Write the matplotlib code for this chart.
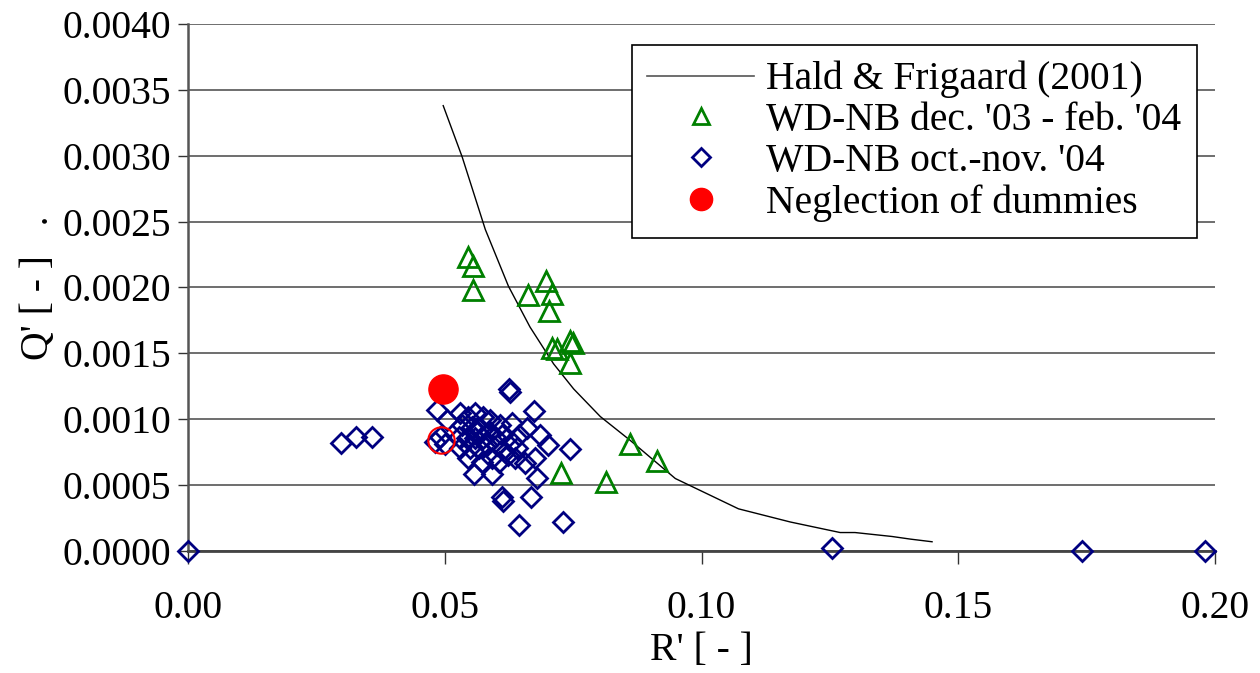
import matplotlib
matplotlib.use('Agg')
import matplotlib.pyplot as plt
from matplotlib.lines import Line2D

plt.rcParams['font.family'] = ['Liberation Serif', 'DejaVu Serif']

# Hald & Frigaard (2001)
hf_r = [0.0497, 0.0534, 0.0579, 0.0624, 0.0666, 0.0712, 0.0751, 0.0803, 0.0861,
        0.0949, 0.1072, 0.1173, 0.1270, 0.1299, 0.1371, 0.1407, 0.1449]
hf_q = [0.00338, 0.00299, 0.00244, 0.00201, 0.00170, 0.00142, 0.00123, 0.00102, 0.00084,
        0.00055, 0.00032, 0.00022, 0.00014, 0.00014, 0.00011, 0.00009, 0.00007]

# WD-NB dec. '03 - feb. '04
dec_r = [0.0545, 0.0555, 0.0555, 0.0662, 0.0697, 0.0709, 0.0703, 0.0709, 0.0719,
         0.0744, 0.0749, 0.0743, 0.0727, 0.0814, 0.0861, 0.0914]
dec_q = [0.00223, 0.00216, 0.00198, 0.00194, 0.00205, 0.00195, 0.00182, 0.00154, 0.00153,
         0.00159, 0.00158, 0.00143, 0.00059, 0.00052, 0.00081, 0.00068]

# WD-NB oct.-nov. '04
oct_r = [0.0, 0.0298, 0.0327, 0.0358, 0.1254, 0.1741, 0.1980,
         0.0485, 0.0504, 0.0481, 0.0491, 0.0501, 0.0530, 0.0546, 0.0559, 0.0575, 0.0588,
         0.0608, 0.0533, 0.0553, 0.0569, 0.0562, 0.0588, 0.0527, 0.0543, 0.0559, 0.0575,
         0.0598, 0.0530, 0.0549, 0.0566, 0.0582, 0.0601, 0.0546, 0.0572, 0.0592, 0.0605,
         0.0556, 0.0592, 0.0611, 0.0631, 0.0644, 0.0618, 0.0640, 0.0623,
         0.0626, 0.0627, 0.0674, 0.0631, 0.0660, 0.0686, 0.0702, 0.0744, 0.0676, 0.0657,
         0.0637, 0.0679, 0.0611, 0.0614, 0.0668, 0.0645, 0.0731]
oct_q = [0.0, 0.000817, 0.000868, 0.000868, 0.00002, 0.0, 0.0,
         0.001070, 0.000994, 0.000830, 0.000868, 0.000810, 0.001045, 0.001019, 0.001045, 0.001019, 0.000994,
         0.000956, 0.000956, 0.000943, 0.000931, 0.000906, 0.000906, 0.000868, 0.000855, 0.000855, 0.000855,
         0.000868, 0.000780, 0.000780, 0.000780, 0.000805, 0.000805, 0.000704, 0.000678, 0.000704, 0.000678,
         0.000582, 0.000582, 0.000880, 0.000830, 0.000880, 0.000754, 0.000780, 0.000729,
         0.00123, 0.00121, 0.00106, 0.000969, 0.000931, 0.000880, 0.000805, 0.000774, 0.000704, 0.000666,
         0.000704, 0.000552, 0.00041, 0.00038, 0.00041, 0.00020, 0.00022]

# Neglection of dummies
neg_r = [0.0497]
neg_q = [0.00123]
circ_r = [0.0493]
circ_q = [0.00084]

fig = plt.figure(figsize=(12.6, 6.73), dpi=100)
ax = fig.add_axes([0.1492, 0.1813, 0.8151, 0.7831])

ax.plot(hf_r, hf_q, color='black', lw=1, zorder=3)
ax.plot(oct_r, oct_q, ls='none', marker='D', ms=10, mfc='none', mec='#000080', mew=2, zorder=4, clip_on=False)
ax.plot(dec_r, dec_q, ls='none', marker='^', ms=14, mfc='none', mec='#008000', mew=2, zorder=5)
ax.plot(neg_r, neg_q, ls='none', marker='o', ms=21, mfc='#ff0000', mec='#ff0000', zorder=6)
ax.plot(circ_r, circ_q, ls='none', marker='o', ms=19, mfc='none', mec='#ff0000', mew=1.5, zorder=6)

ax.set_xlim(0, 0.20)
ax.set_ylim(0, 0.0040)
ax.set_xticks([0.00, 0.05, 0.10, 0.15, 0.20])
ax.set_xticklabels(['0.00', '0.05', '0.10', '0.15', '0.20'])
ax.set_yticks([i * 0.0005 for i in range(9)])
ax.set_yticklabels(['%.4f' % (i * 0.0005) for i in range(9)])
ax.tick_params(axis='both', labelsize=28.5, colors='#333333', labelcolor='black')
ax.tick_params(axis='y', length=7, width=1, pad=5)
ax.tick_params(axis='x', length=9, width=1, pad=19)

ax.yaxis.grid(True, color='#555555', lw=1.2)
ax.set_axisbelow(True)
for s in ['top', 'right']:
    ax.spines[s].set_visible(False)
ax.spines['left'].set_color('#555555')
ax.spines['left'].set_linewidth(1.8)
ax.spines['bottom'].set_color('#444444')
ax.spines['bottom'].set_linewidth(2)

ax.set_xlabel("R' [ - ]", fontsize=28.5, labelpad=4)
ax.set_ylabel("Q' [ - ]   .", fontsize=28.5, labelpad=4)

handles = [
    Line2D([], [], color='#555555', lw=1.2),
    Line2D([], [], ls='none', marker='^', ms=11, mfc='none', mec='#008000', mew=2),
    Line2D([], [], ls='none', marker='D', ms=9, mfc='none', mec='#000080', mew=2),
    Line2D([], [], ls='none', marker='o', ms=16, mfc='#ff0000', mec='#ff0000'),
]
labels = ['Hald & Frigaard (2001)', "WD-NB dec. '03 - feb. '04",
          "WD-NB oct.-nov. '04", 'Neglection of dummies']
leg = ax.legend(handles, labels, loc='upper right', bbox_to_anchor=(0.9825, 0.960),
                borderaxespad=0, fontsize=28.5, frameon=True, fancybox=False,
                edgecolor='black', framealpha=1, borderpad=0.4, labelspacing=0.1,
                handlelength=2.7, handletextpad=0.3)
leg.get_frame().set_linewidth(1.2)

fig.savefig('out.png', dpi=100)
